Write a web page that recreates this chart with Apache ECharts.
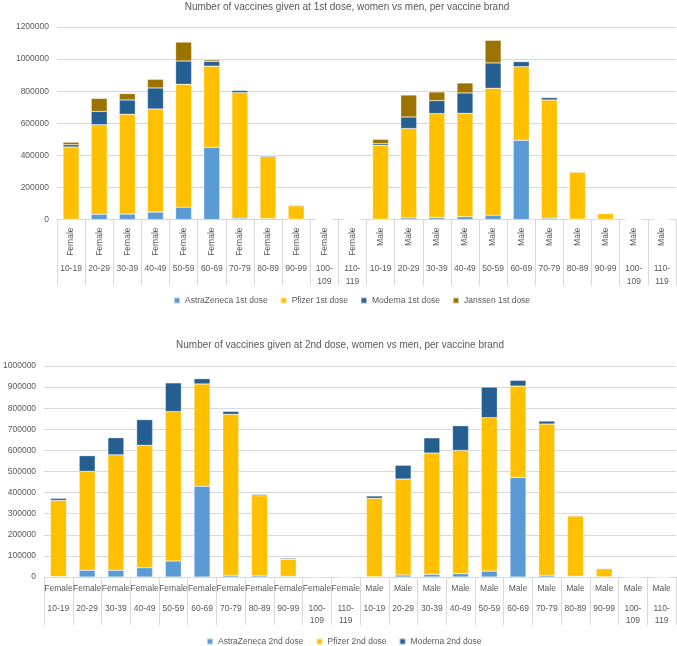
<!DOCTYPE html>
<html>
<head>
<meta charset="utf-8">
<script src="https://cdn.jsdelivr.net/npm/echarts@6/dist/echarts.min.js"></script>
<style>
html,body{margin:0;padding:0;background:#fff;}
#chart{width:677px;height:646px;}
</style>
</head>
<body>
<div id="chart"></div>
<script>
const genders = ['Female','Female','Female','Female','Female','Female','Female','Female','Female','Female','Female',
                 'Male','Male','Male','Male','Male','Male','Male','Male','Male','Male','Male'];
const ageGroups = ['10-19','20-29','30-39','40-49','50-59','60-69','70-79','80-89','90-99','100-\n109','110-\n119',
                   '10-19','20-29','30-39','40-49','50-59','60-69','70-79','80-89','90-99','100-\n109','110-\n119'];

// 1st dose (Female 10-19 ... 110-119, then Male 10-19 ... 110-119)
const astra1 = [2000, 33000, 34000, 46000, 77000, 450000, 8000, 6000, 2000, 200, 0,
                1000, 10000, 12000, 17000, 27000, 494000, 8000, 2000, 1000, 100, 0];
const pfizer1 = [450000, 558000, 622000, 643000, 766000, 506000, 783000, 386000, 83000, 400, 0,
                 462000, 557000, 648000, 645000, 791000, 459000, 737000, 293000, 36000, 100, 0];
const moderna1 = [14000, 83000, 89000, 131000, 145000, 29000, 14000, 6000, 5000, 0, 0,
                  10000, 72000, 81000, 127000, 158000, 31000, 15000, 4000, 3000, 0, 0];
const janssen1 = [16000, 81000, 40000, 54000, 118000, 10000, 3000, 1000, 3000, 0, 0,
                  27000, 137000, 54000, 62000, 141000, 4000, 4000, 1000, 1000, 0, 0];

// 2nd dose
const astra2 = [2000, 32000, 32000, 44000, 76000, 430000, 8000, 6000, 3000, 300, 0,
                1000, 9500, 12500, 16000, 28000, 472000, 8000, 3000, 1000, 0, 0];
const pfizer2 = [361000, 469000, 547000, 580000, 708000, 485000, 763000, 379000, 81000, 1500, 0,
                 372000, 455000, 575000, 584000, 727000, 433000, 717000, 286000, 38000, 100, 0];
const moderna2 = [10000, 74000, 81000, 122000, 136000, 25000, 14000, 6000, 5000, 200, 0,
                  11000, 65000, 72000, 117000, 145000, 27000, 14000, 3000, 3000, 0, 0];

const textColor = '#595959';
const gridColor = '#d9d9d9';
const font = 'Liberation Sans';
const colors = {az: '#5B9BD5', pf: '#FFC000', mo: '#255E91', ja: '#9C7300'};
const plain = v => String(v);

function bar(name, data, color, xi, yi) {
  return {
    name: name, type: 'bar', stack: 's' + yi, data: data,
    xAxisIndex: xi, yAxisIndex: yi, barWidth: 16,
    itemStyle: {color: color, borderColor: 'rgba(255,255,255,0.55)', borderWidth: 0.5},
    emphasis: {disabled: true}
  };
}

const chart = echarts.init(document.getElementById('chart'), null, {renderer: 'canvas'});
chart.setOption({
  animation: false,
  textStyle: {fontFamily: font},
  title: [
    {text: 'Number of vaccines given at 1st dose, women vs men, per vaccine brand',
     left: 347, top: 2, padding: 0, textAlign: 'center',
     textStyle: {fontSize: 10, fontWeight: 'normal', color: textColor, fontFamily: font}},
    {text: 'Number of vaccines given at 2nd dose, women vs men, per vaccine brand',
     left: 340, top: 340, padding: 0, textAlign: 'center',
     textStyle: {fontSize: 10, fontWeight: 'normal', color: textColor, fontFamily: font}}
  ],
  legend: [
    {data: ['AstraZeneca 1st dose','Pfizer 1st dose','Moderna 1st dose','Janssen 1st dose'],
     left: 168, top: 291, itemWidth: 6, itemHeight: 6, itemGap: 12, icon: 'rect',
     textStyle: {fontSize: 8.5, color: textColor, fontFamily: font}},
    {data: ['AstraZeneca 2nd dose','Pfizer 2nd dose','Moderna 2nd dose'],
     left: 201, top: 632, itemWidth: 6, itemHeight: 6, itemGap: 12, icon: 'rect',
     textStyle: {fontSize: 8.5, color: textColor, fontFamily: font}}
  ],
  grid: [
    {left: 57, width: 619, top: 27, height: 192.5},
    {left: 43, width: 633, top: 366, height: 211}
  ],
  xAxis: [
    {type: 'category', gridIndex: 0, data: genders, position: 'bottom',
     axisLine: {lineStyle: {color: gridColor}},
     axisTick: {show: true, interval: 0, length: 66, lineStyle: {color: gridColor}},
     axisLabel: {interval: 0, rotate: 90, margin: 8, fontSize: 8.5, color: textColor, fontFamily: font}},
    {type: 'category', gridIndex: 0, data: ageGroups, position: 'bottom', offset: 0,
     axisLine: {show: false}, axisTick: {show: false},
     axisLabel: {interval: 0, margin: 43, fontSize: 8.5, lineHeight: 13, color: textColor, fontFamily: font}},
    {type: 'category', gridIndex: 1, data: genders, position: 'bottom',
     axisLine: {lineStyle: {color: gridColor}},
     axisTick: {show: true, interval: 0, length: 48, lineStyle: {color: gridColor}},
     axisLabel: {interval: 0, margin: 7, fontSize: 8.5, color: textColor, fontFamily: font}},
    {type: 'category', gridIndex: 1, data: ageGroups, position: 'bottom', offset: 0,
     axisLine: {show: false}, axisTick: {show: false},
     axisLabel: {interval: 0, margin: 26, fontSize: 8.5, lineHeight: 12, color: textColor, fontFamily: font}}
  ],
  yAxis: [
    {type: 'value', gridIndex: 0, min: 0, max: 1200000, interval: 200000,
     axisLine: {show: false}, axisTick: {show: false},
     splitLine: {lineStyle: {color: gridColor}},
     axisLabel: {margin: 8, fontSize: 8.5, color: textColor, fontFamily: font, formatter: plain}},
    {type: 'value', gridIndex: 1, min: 0, max: 1000000, interval: 100000,
     axisLine: {show: false}, axisTick: {show: false},
     splitLine: {lineStyle: {color: gridColor}},
     axisLabel: {margin: 8, fontSize: 8.5, color: textColor, fontFamily: font, formatter: plain}}
  ],
  series: [
    bar('AstraZeneca 1st dose', astra1, colors.az, 0, 0),
    bar('Pfizer 1st dose', pfizer1, colors.pf, 0, 0),
    bar('Moderna 1st dose', moderna1, colors.mo, 0, 0),
    bar('Janssen 1st dose', janssen1, colors.ja, 0, 0),
    bar('AstraZeneca 2nd dose', astra2, colors.az, 2, 1),
    bar('Pfizer 2nd dose', pfizer2, colors.pf, 2, 1),
    bar('Moderna 2nd dose', moderna2, colors.mo, 2, 1)
  ]
});
</script>
</body>
</html>
